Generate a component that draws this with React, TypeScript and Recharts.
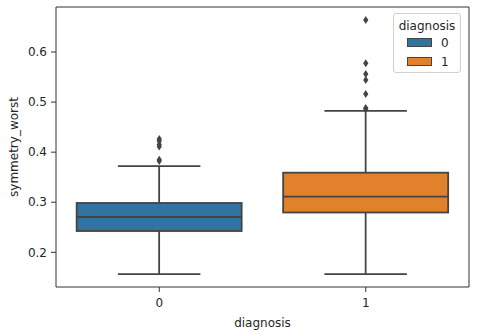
import {
  Bar,
  Cell,
  ComposedChart,
  Legend,
  Scatter,
  XAxis,
  YAxis,
} from 'recharts';

const categories = ['0', '1'];
const colors = ['#3274a1', '#e1812c'];
const lowWhisker = [0.1566, 0.1565];
const q1 = [0.2425, 0.2795];
const medians = [0.2705, 0.3110];
const q3 = [0.2985, 0.3590];
const highWhisker = [0.3720, 0.4825];
const outliers0 = [0.4265, 0.4225, 0.4155, 0.4115, 0.3850, 0.3825];
const outliers1 = [0.6638, 0.5775, 0.5560, 0.5440, 0.5160, 0.4880, 0.4860];
const yTicks = [0.2, 0.3, 0.4, 0.5, 0.6];
const yDomain = [0.1307, 0.6899];

const LINE = '#444444';
const TEXT = '#262626';
const FONT = '"DejaVu Sans", sans-serif';

const boxData = categories.map((c, i) => ({
  diag: c,
  box: [q1[i], q3[i]],
  low: lowWhisker[i],
  med: medians[i],
  high: highWhisker[i],
}));

const outlierData = [
  ...outliers0.map((v) => ({ diag: '0', v })),
  ...outliers1.map((v) => ({ diag: '1', v })),
];

// The bar spans q1..q3, so its pixel height gives the y scale for the whiskers.
function BoxShape(props: any) {
  const { x, y, width, height, payload, fill } = props;
  const top = Math.min(y, y + height);
  const h = Math.abs(height);
  const [b1, b3] = payload.box;
  const ppu = h / (b3 - b1);
  const toY = (v: number) => top + (b3 - v) * ppu;
  const cx = x + width / 2;
  const cap = width / 4;
  return (
    <g>
      <line x1={cx} x2={cx} y1={toY(b3)} y2={toY(payload.high)} stroke={LINE} strokeWidth={1.8} />
      <line x1={cx} x2={cx} y1={toY(b1)} y2={toY(payload.low)} stroke={LINE} strokeWidth={1.8} />
      <line x1={cx - cap} x2={cx + cap} y1={toY(payload.high)} y2={toY(payload.high)} stroke={LINE} strokeWidth={1.8} />
      <line x1={cx - cap} x2={cx + cap} y1={toY(payload.low)} y2={toY(payload.low)} stroke={LINE} strokeWidth={1.8} />
      <rect x={x} y={top} width={width} height={h} fill={fill} stroke={LINE} strokeWidth={1.8} />
      <line x1={x} x2={x + width} y1={toY(payload.med)} y2={toY(payload.med)} stroke={LINE} strokeWidth={1.8} />
    </g>
  );
}

function Diamond(props: any) {
  const { cx, cy } = props;
  if (cx == null || cy == null) return null;
  const w = 2.6;
  const hh = 4;
  return <path d={`M${cx},${cy - hh}L${cx + w},${cy}L${cx},${cy + hh}L${cx - w},${cy}Z`} fill={LINE} />;
}

function LegendBox() {
  return (
    <div
      style={{
        width: 68,
        height: 60,
        border: '1px solid #d0d0d0',
        borderRadius: 3,
        background: 'rgba(255,255,255,0.8)',
        fontFamily: FONT,
        fontSize: 12,
        color: TEXT,
        boxSizing: 'border-box',
      }}
    >
      <div style={{ textAlign: 'center', lineHeight: '14px', marginTop: 5 }}>diagnosis</div>
      {categories.map((c, i) => (
        <div key={c} style={{ display: 'flex', alignItems: 'center', height: 19, marginLeft: 13 }}>
          <span
            style={{
              display: 'inline-block',
              width: 25,
              height: 9,
              background: colors[i],
              border: `1px solid ${LINE}`,
              boxSizing: 'border-box',
            }}
          />
          <span style={{ marginLeft: 9 }}>{c}</span>
        </div>
      ))}
    </div>
  );
}

export default function App() {
  return (
    <div style={{ position: 'absolute', left: 0, top: 0, width: 480, height: 334, background: '#fff' }}>
      <ComposedChart
        width={480}
        height={334}
        data={boxData}
        margin={{ top: 6, right: 10, bottom: 0, left: 0 }}
        barCategoryGap="10%"
      >
        <XAxis
          dataKey="diag"
          type="category"
          allowDuplicatedCategory={false}
          height={47}
          tickSize={5}
          tickMargin={6}
          stroke="#333"
          tick={{ fill: TEXT, fontSize: 12, fontFamily: FONT }}
          label={{ value: 'diagnosis', position: 'insideBottom', offset: 7, fill: TEXT, fontSize: 12, fontFamily: FONT }}
        />
        <XAxis
          xAxisId="top"
          dataKey="diag"
          orientation="top"
          height={1}
          tick={false}
          tickLine={false}
          axisLine={{ stroke: '#333' }}
        />
        <YAxis
          type="number"
          domain={yDomain}
          ticks={yTicks}
          allowDataOverflow
          width={56}
          tickSize={5}
          tickMargin={4}
          stroke="#333"
          tickFormatter={(v: number) => v.toFixed(1)}
          tick={{ fill: TEXT, fontSize: 12, fontFamily: FONT }}
          label={{
            value: 'symmetry_worst',
            angle: -90,
            position: 'insideLeft',
            offset: 14,
            style: { textAnchor: 'middle' },
            fill: TEXT,
            fontSize: 12,
            fontFamily: FONT,
          }}
        />
        <YAxis
          yAxisId="right"
          orientation="right"
          width={1}
          tick={false}
          tickLine={false}
          axisLine={{ stroke: '#333' }}
          domain={yDomain}
        />
        <Legend
          layout="horizontal"
          verticalAlign="middle"
          align="center"
          content={() => <LegendBox />}
          wrapperStyle={{ position: 'absolute', top: 13, left: 393, width: 68, height: 60 }}
        />
        <Bar dataKey="box" shape={<BoxShape />} isAnimationActive={false}>
          {boxData.map((d, i) => (
            <Cell key={d.diag} fill={colors[i]} />
          ))}
        </Bar>
        <Scatter data={outlierData} dataKey="v" shape={<Diamond />} isAnimationActive={false} />
      </ComposedChart>
    </div>
  );
}
